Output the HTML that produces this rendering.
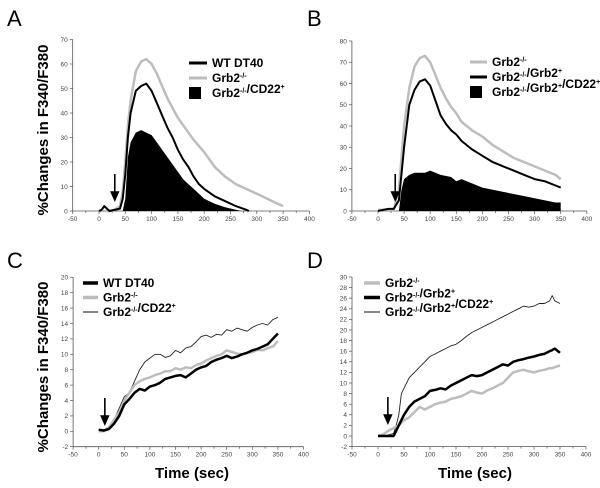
<!DOCTYPE html>
<html><head><meta charset="utf-8"><style>
body{margin:0;background:#fff;}
svg{display:block;font-family:"Liberation Sans",sans-serif;}
.tk{font-size:6.5px;fill:#444;}
.lg{font-size:12px;font-weight:bold;fill:#000;}
.pl{font-size:22px;fill:#000;}
.ax{font-size:15px;font-weight:bold;fill:#000;}
</style></head><body>
<svg id="fig" width="600" height="488" viewBox="0 0 600 488">
<text class="pl" x="7" y="26">A</text>
<text class="pl" x="307" y="26">B</text>
<text class="pl" x="7" y="268">C</text>
<text class="pl" x="307" y="268">D</text>
<text class="ax" transform="translate(48,130) rotate(-90)" text-anchor="middle">%Changes in F340/F380</text>
<text class="ax" transform="translate(48,367) rotate(-90)" text-anchor="middle">%Changes in F340/F380</text>
<text class="ax" x="192" y="478" text-anchor="middle">Time (sec)</text>
<text class="ax" x="475" y="478" text-anchor="middle">Time (sec)</text>
</svg>
<script>
// Panel A data
const aWtX=[0,5,10,15,20,40,45,50,55,60,70,80,90,100,110,120,130,140,150,160,170,180,190,200,220,240,260,280,285];
const aWtY=[0,0.5,2,1,0,1,5,15,30,40,49,51,52,49,44,39,34,30,25,21,18,14,11,9,6,4,2,0.5,0];
const aKoX=[0,20,30,40,45,50,55,60,70,80,90,100,110,120,130,140,150,160,170,180,200,220,240,260,280,300,320,340,350];
const aKoY=[0,0,0.5,2,8,20,35,45,57,61,62,60,56,51,46,42,38,35,32,29,24,18,14,11,9,7,5,3,2];
const aCdX=[0,45,50,55,60,70,80,90,100,110,120,130,140,150,160,170,180,190,200,220,240,260,270];
const aCdY=[0,0,5,22,28,32,33,32,31,28,25,22,19,16,13,11,9,7,5,3,1.5,0.5,0];
// Panel B data
const bKoX=[0,30,40,50,60,70,80,90,100,110,120,130,140,150,160,170,180,200,220,240,260,280,300,320,340,350];
const bKoY=[0.5,0.5,10,40,58,68,72,73,70,64,58,53,49,46,42,40,38,35,31,28,25,23,21,19,17,15];
const bReX=[0,10,20,30,40,50,60,70,80,90,100,110,120,130,140,150,160,170,180,200,220,240,260,280,300,320,330,340,350];
const bReY=[0,0.5,1,1,5,30,50,57,61,62,59,52,45,41,38,36,33,31,29,26,23,21,19,17,15,14,13,12,11];
const bCdX=[40,45,50,60,70,80,90,100,120,140,150,160,180,200,220,240,260,280,300,320,340,350];
const bCdY=[0,10,15,17,18,18,18,19,17,16,14,15,13,11,10,9,8,7,6,5,4,4];
// Panel C data
const cX=[0,10,20,30,40,50,60,70,80,90,100,110,120,130,140,150,160,170,180,190,200,210,220,230,240,250,260,270,280,290,300,310,320,330,340,350];
const cWt=[0.2,0.1,0.3,1,2,3.5,4.2,5,5.5,5.3,5.8,6,6.3,6.8,7,7.2,7.3,7,7.5,8,8.3,8.5,9,9.3,9.5,9.8,9.5,9.7,10,10.2,10.5,10.7,11,11.3,12,12.7];
const cKo=[0,0,0.5,1.5,2.5,4,5,6,6.5,6.8,7,7.3,7.5,7.8,7.8,8.2,8,8.3,8.2,8.6,8.8,9.2,9.5,9.8,10,10.5,10.3,10.1,10,10.2,10.3,10.6,10.5,10.8,11,11.7];
const cCd=[0.2,0,0.5,1.5,3,4.5,5,6.5,8,9,9.5,10,10,9.6,9.8,10.5,10.2,10.8,11,11.6,12.3,12.5,12.2,12.6,12.5,13.2,13,13.4,13.2,13,13.5,13.8,14,13.8,14.5,14.8];
// Panel D data
const dX=[0,10,20,30,35,40,45,50,60,70,80,90,100,110,120,130,140,150,160,170,180,190,200,210,220,230,240,250,260,270,280,290,300,310,320,330,335,340,350];
const dKo=[0,0.3,1,1.5,1.8,2,2.5,3,3.5,4.5,5.5,5,5.5,6,6.3,6.5,7,7.2,7.5,8,8.5,8.2,8,8.6,9,9.5,10,11,12,12.3,12.5,12.2,12,12.3,12.5,12.8,12.8,13,13.3];
const dRe=[0,0,0,0,1,2,3,4,5.5,6.5,7,7.5,8.5,8.7,9,8.8,9.5,10,10.5,11,11.5,11.3,11.5,12,12.5,13,13.5,13.3,14,14.3,14.5,14.8,15,15.3,15.5,16,16.2,16.5,15.7];
const dCd=[0,0,0.2,0.5,2,4,8,9,11,12,13,14,15,15.5,16,16.5,17,17.3,18,18.8,19.5,20,20.5,21,21.5,22,22.5,23,23.5,24,24.5,24.3,24.5,25,25,25.5,26.5,25.5,25];
const xTicks=[-50,0,50,100,150,200,250,300,350,400];

const NS='http://www.w3.org/2000/svg';
const svg=document.getElementById('fig');
function mk(t,a){const e=document.createElementNS(NS,t);for(const k in a)e.setAttribute(k,a[k]);svg.appendChild(e);return e;}
function panel(p){
  const sx=v=>p.x0+v*p.kx, sy=v=>p.y0-v*p.ky;
  const yb=sy(p.ymin), xl=sx(-50), xr=sx(400);
  let e=mk('line',{x1:xl,y1:yb,x2:xr,y2:yb,stroke:'#555','stroke-width':0.8});
  
  
  e=mk('line',{x1:xl,y1:sy(p.ymax),x2:xl,y2:yb,stroke:'#555','stroke-width':0.8});
  
  
  for(let v=-50;v<=400;v+=25){mk('line',{x1:sx(v),y1:yb,x2:sx(v),y2:yb+(v%50===0?3:2),stroke:'#555','stroke-width':0.7});}
  xTicks.forEach(v=>{const t=mk('text',{x:sx(v),y:yb+10,'text-anchor':'middle',class:'tk'});t.textContent=v;
    
    });
  for(let v=p.ymin;v<=p.ymax;v+=p.ystep){mk('line',{x1:xl-3,y1:sy(v),x2:xl,y2:sy(v),stroke:'#555','stroke-width':0.7});
    const t=mk('text',{x:xl-5,y:sy(v)+2.3,'text-anchor':'end',class:'tk'});t.textContent=v;
    
    }
  p.series.forEach(s=>{
    let d=s.x.map((v,i)=>(i?'L':'M')+sx(v).toFixed(1)+','+sy(s.y[i]).toFixed(1)).join('');
    let el;
    if(s.fill){d+='L'+sx(s.x[s.x.length-1])+','+sy(0)+'L'+sx(s.x[0])+','+sy(0)+'Z';el=mk('path',{d:d,fill:'#000',stroke:'none'});}
    else el=mk('path',{d:d,fill:'none',stroke:s.c,'stroke-width':s.w,'stroke-linejoin':'round'});
    
    
  });
  const ax=sx(p.arrow);
  const ar=mk('path',{d:`M${ax},${p.ay}L${ax},${p.ay+20}M${ax-3.5},${p.ay+18}L${ax},${p.ay+26}L${ax+3.5},${p.ay+18}Z`,stroke:'#000','stroke-width':1.6,fill:'#000'});
  
  
  p.legend.forEach((l,i)=>{
    const y=p.ly+i*p.lgap;
    let m;
    if(l.fill) m=mk('rect',{x:p.lx,y:y-6,width:12,height:12,fill:'#000'});
    else m=mk('line',{x1:p.lx,y1:y,x2:p.lx+p.lw,y2:y,stroke:l.c,'stroke-width':l.w});
    
    
    const t=mk('text',{x:p.lx+p.lw+5,y:y+4,class:'lg'});t.innerHTML=l.t;
    
    
  });
}
const G='#bdbdbd';
const sup=s=>`<tspan dy="-4" font-size="7">${s}</tspan><tspan dy="4"></tspan>`;
const KO='Grb2'+sup('-/-'), RE='Grb2'+sup('-/-')+'/Grb2'+sup('+');
panel({id:'a',x0:99,kx:0.526,y0:211,ky:2.45,ymin:0,ymax:70,ystep:10,arrow:30,ay:174,lx:189,ly:63,lgap:15,lw:18,
  series:[{name:'a-cd22-area',x:aCdX,y:aCdY,fill:1},{name:'a-grb2-ko-line',x:aKoX,y:aKoY,c:G,w:2.5},{name:'a-wt-line',x:aWtX,y:aWtY,c:'#000',w:2}],
  legend:[{c:'#000',w:3,t:'WT DT40'},{c:G,w:3,t:KO},{fill:1,t:KO+'/CD22'+sup('+')}]});
panel({id:'b',x0:378,kx:0.522,y0:211,ky:2.125,ymin:0,ymax:80,ystep:10,arrow:33,ay:174,lx:470,ly:62,lgap:15,lw:17,
  series:[{name:'b-cd22-area',x:bCdX,y:bCdY,fill:1},{name:'b-grb2-ko-line',x:bKoX,y:bKoY,c:G,w:2.5},{name:'b-rescue-line',x:bReX,y:bReY,c:'#000',w:2}],
  legend:[{c:G,w:3,t:KO},{c:'#000',w:3,t:RE},{fill:1,t:RE+'/CD22'+sup('+')}]});
panel({id:'c',x0:98.7,kx:0.512,y0:431.3,ky:7.7,ymin:-2,ymax:20,ystep:2,arrow:12,ay:398,lx:83,ly:283,lgap:14.5,lw:15,
  series:[{name:'c-cd22-line',x:cX,y:cCd,c:'#222',w:0.9},{name:'c-grb2-ko-line',x:cX,y:cKo,c:G,w:2.5},{name:'c-wt-line',x:cX,y:cWt,c:'#000',w:2.5}],
  legend:[{c:'#000',w:3.5,t:'WT DT40'},{c:G,w:3.5,t:KO},{c:'#333',w:1.2,t:KO+'/CD22'+sup('+')}]});
panel({id:'d',x0:378,kx:0.52,y0:436,ky:5.3,ymin:-2,ymax:30,ystep:2,arrow:19,ay:397,lx:364,ly:283,lgap:14.5,lw:16,
  series:[{name:'d-cd22-line',x:dX,y:dCd,c:'#222',w:0.9},{name:'d-grb2-ko-line',x:dX,y:dKo,c:G,w:2.5},{name:'d-rescue-line',x:dX,y:dRe,c:'#000',w:2.5}],
  legend:[{c:G,w:3.5,t:KO},{c:'#000',w:3.5,t:RE},{c:'#333',w:1.2,t:RE+'/CD22'+sup('+')}]});
</script>
</body></html>
